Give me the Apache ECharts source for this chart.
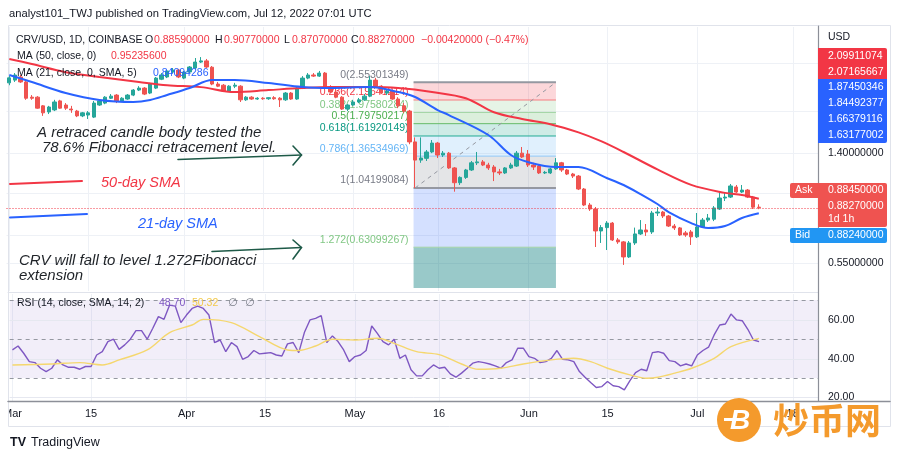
<!DOCTYPE html>
<html>
<head>
<meta charset="utf-8">
<title>CRV/USD 1D</title>
<script src="https://cdn.jsdelivr.net/npm/echarts@6.0.0/dist/echarts.min.js"></script>
<style>
html,body{margin:0;padding:0;background:#ffffff;}
#chart{width:900px;height:459px;}
</style>
</head>
<body>
<div id="chart"></div>
<script>
// ---------------- data ----------------
const dayCount = 144; // 2022-03-01 .. 2022-07-22
const categories = [];
for (let i = 0; i < dayCount; i++) {
  const d = new Date(Date.UTC(2022, 2, 1 + i));
  categories.push(d.toISOString().slice(0, 10));
}
const tickDates = ['2022-03-01','2022-03-15','2022-04-01','2022-04-15','2022-05-01','2022-05-16','2022-06-01','2022-06-15','2022-07-01','2022-07-18'];
const tickTexts = ['Mar','15','Apr','15','May','16','Jun','15','Jul','18'];

const opens = [2.54,2.60,2.67,2.56,2.25,2.25,2.09,1.985,2.02,2.18,
 2.105,2.035,2.00,1.92,1.934,1.90,2.105,2.14,2.23,2.29,
 2.18,2.215,2.29,2.39,2.43,2.33,2.43,2.62,2.67,2.785,
 2.83,2.645,2.785,2.88,3.03,3.06,2.90,2.515,2.49,2.37,
 2.47,2.47,2.20,2.25,2.215,2.23,2.22,2.24,2.23,2.20,
 2.33,2.215,2.43,2.645,2.715,2.69,2.76,2.43,2.35,2.25,
 2.035,2.105,2.16,2.20,2.27,2.60,2.47,2.33,2.37,2.215,
 2.09,2.00,1.54,1.32,1.34,1.414,1.525,1.378,1.40,1.235,
 1.09,1.14,1.214,1.29,1.30,1.266,1.245,1.194,1.184,1.235,
 1.255,1.40,1.39,1.266,1.255,1.184,1.184,1.225,1.29,1.214,
 1.173,1.153,1.033,0.902,0.872,0.724,0.745,0.774,0.671,0.66,
 0.581,0.654,0.706,0.73,0.718,0.843,0.85,0.822,0.755,0.743,
 0.712,0.718,0.689,0.749,0.794,0.80,0.872,0.957,0.965,1.051,
 1.007,1.024,0.965,0.8859];
const closes = [2.65,2.715,2.56,2.23,2.23,2.05,1.97,2.07,2.16,2.05,
 2.05,2.02,1.92,1.97,1.97,2.14,2.18,2.25,2.27,2.18,
 2.23,2.29,2.39,2.43,2.31,2.515,2.645,2.715,2.81,2.83,
 2.67,2.785,2.905,3.03,3.06,2.905,2.515,2.47,2.37,2.47,
 2.49,2.20,2.25,2.215,2.23,2.22,2.24,2.22,2.20,2.33,
 2.215,2.43,2.645,2.715,2.69,2.76,2.43,2.35,2.25,2.035,
 2.105,2.16,2.20,2.27,2.60,2.47,2.33,2.37,2.215,2.09,
 2.00,1.54,1.32,1.343,1.414,1.525,1.378,1.40,1.235,1.09,
 1.14,1.214,1.29,1.30,1.266,1.235,1.194,1.184,1.235,1.266,
 1.40,1.355,1.266,1.245,1.184,1.19,1.225,1.29,1.214,1.173,
 1.153,1.033,0.902,0.872,0.724,0.745,0.774,0.671,0.66,0.581,
 0.654,0.706,0.730,0.718,0.843,0.85,0.822,0.755,0.743,0.70,
 0.70,0.689,0.749,0.794,0.808,0.88,0.957,0.965,1.06,1.007,
 1.024,0.965,0.886,0.8827];
const highs = [2.69,2.76,2.715,2.58,2.29,2.27,2.105,2.09,2.20,2.20,
 2.14,2.09,2.02,1.985,2.00,2.18,2.215,2.27,2.31,2.31,
 2.25,2.31,2.41,2.47,2.45,2.54,2.67,2.76,2.83,2.88,
 2.86,2.81,2.93,3.135,3.16,3.11,2.93,2.56,2.515,2.49,
 2.54,2.49,2.27,2.27,2.25,2.25,2.25,2.27,2.25,2.35,
 2.35,2.45,2.69,2.76,2.76,2.81,2.785,2.49,2.45,2.27,
 2.12,2.20,2.235,2.31,2.69,2.65,2.49,2.41,2.39,2.25,
 2.14,2.02,1.60,1.60,1.438,1.565,1.54,1.426,1.414,1.245,
 1.15,1.225,1.31,1.414,1.321,1.29,1.266,1.225,1.245,1.29,
 1.426,1.475,1.438,1.29,1.266,1.204,1.235,1.343,1.30,1.225,
 1.184,1.163,1.042,0.918,0.887,0.761,0.787,0.781,0.682,0.665,
 0.665,0.745,0.794,0.768,0.858,0.887,0.858,0.829,0.768,0.749,
 0.724,0.73,0.843,0.808,0.836,0.894,1.007,1.007,1.078,1.069,
 1.069,1.033,0.974,0.9077];
const lows = [2.49,2.56,2.54,2.20,2.20,2.04,1.92,1.95,2.00,2.04,
 2.02,1.97,1.90,1.90,1.87,1.885,2.09,2.12,2.215,2.14,
 2.16,2.20,2.27,2.37,2.29,2.31,2.41,2.60,2.645,2.76,
 2.645,2.62,2.76,2.86,3.005,2.88,2.49,2.45,2.35,2.35,
 2.43,2.16,2.18,2.20,2.20,2.20,2.20,2.20,2.07,2.18,
 2.20,2.20,2.41,2.62,2.67,2.67,2.39,2.33,2.23,2.02,
 2.00,2.09,2.14,2.18,2.25,2.45,2.31,2.29,2.20,2.05,
 1.97,1.51,1.042,1.29,1.31,1.40,1.343,1.355,1.225,1.01,
 1.069,1.125,1.204,1.266,1.255,1.214,1.105,1.163,1.173,1.225,
 1.245,1.343,1.245,1.214,1.173,1.173,1.173,1.214,1.194,1.163,
 1.134,1.024,0.894,0.858,0.632,0.654,0.616,0.665,0.649,0.543,
 0.576,0.643,0.70,0.694,0.706,0.822,0.808,0.749,0.73,0.694,
 0.689,0.643,0.682,0.743,0.781,0.787,0.865,0.933,0.957,0.999,
 0.999,0.957,0.872,0.8707];

// moving averages: [day index, value]
const ma50Points = [[0,3.11],[4,2.98],[10,2.78],[16,2.67],[23,2.56],[28,2.49],[34,2.45],[40,2.35],[46,2.39],[52,2.43],[57,2.45],[64,2.45],[69,2.43],[75,2.35],[81,2.23],[86,1.98],[91,1.87],[96,1.79],[101,1.67],[105,1.55],[109,1.414],[115,1.22],[121,1.07],[127,1.0],[130,0.982],[133,0.952]];
const ma21Points = [[0,2.715],[4,2.558],[10,2.331],[16,2.197],[22,2.16],[25,2.197],[28,2.292],[32,2.432],[36,2.602],[40,2.602],[46,2.537],[52,2.452],[57,2.432],[64,2.452],[69,2.351],[72,2.253],[76,2.018],[78,1.934],[85,1.633],[89,1.378],[92,1.299],[97,1.245],[101,1.245],[106,1.134],[109,1.069],[112,0.99],[115,0.91],[117,0.85],[121,0.774],[124,0.7425],[127,0.755],[130,0.808],[133,0.841]];

const rsiValues = [44.4,46.4,42.7,38.4,37.9,35.0,33.3,35.0,39.3,36.7,
 35.5,35.5,34.5,35.9,35.9,41.8,43.5,48.7,49.9,44.7,
 47.0,49.9,54.3,54.3,49.9,55.5,61.5,60.1,67.4,66.9,
 58.4,62.3,65.7,66.9,65.7,62.3,48.2,49.5,43.5,48.2,
 46.1,39.6,41.0,44.1,42.4,42.7,43.0,41.8,41.3,47.5,
 48.2,43.0,53.3,59.8,60.6,62.0,48.2,51.6,48.7,44.4,
 38.4,41.0,41.8,44.1,56.7,52.9,48.7,47.0,49.9,40.1,
 41.8,34.2,31.1,31.1,34.2,36.7,35.0,35.5,32.1,30.4,
 32.5,35.0,37.6,38.4,37.9,37.2,36.2,35.0,37.9,39.3,
 45.3,45.3,41.0,40.1,37.9,38.4,40.1,44.1,39.6,39.3,
 38.4,33.3,30.4,27.7,25.1,25.6,28.2,26.0,25.6,23.9,
 28.7,32.8,34.5,33.7,43.0,43.5,42.7,38.9,38.4,36.2,
 37.2,36.2,41.8,44.1,45.8,52.1,57.2,57.7,62.8,59.8,
 59.4,55.0,49.5,48.7];
const rsiSmaPoints = [[0,36.7],[7,37.2],[12,37.9],[16,36.7],[19,39.3],[24,44.4],[28,53.3],[32,57.2],[34,60.1],[39,58.4],[44,51.2],[49,44.4],[51,44.1],[54,46.4],[57,49.9],[61,49.5],[65,50.4],[68,47.8],[72,43.5],[76,42.0],[80,37.2],[83,34.5],[87,35.0],[91,37.2],[96,39.3],[100,40.1],[103,38.4],[106,35.0],[110,31.6],[113,29.9],[115,30.4],[118,32.5],[121,35.0],[125,40.1],[128,46.1],[133,50.32]];

const fibRatios = [0, 0.236, 0.382, 0.5, 0.618, 0.786, 1, 1.272, 1.618];
const fibPrices = [2.55301349, 2.19641214, 1.97580284, 1.79750217, 1.61920149, 1.36534969, 1.04199084, 0.63099267, 0.10817884];
const fibStartDate = '2022-05-12';
const fibEndDate = '2022-06-06';

const lastPrice = 0.8827;
const priceGridLines = [3.0, 2.0, 1.4, 1.0, 0.7, 0.55];
const priceAxisLabels = [1.4, 0.55];
const rsiSolidLevels = [60, 40, 20];
const rsiDashedLevels = [70, 50, 30];
const rsiBand = [30, 70];

// ---------------- chart ----------------
const FONT = "'Liberation Sans', Arial, sans-serif";
const tickIdx = tickDates.map(d => categories.indexOf(d));
const tickMap = {};
tickIdx.forEach((ix, k) => { tickMap[ix] = tickTexts[k]; });
const fibStart = categories.indexOf(fibStartDate);
const fibEnd = categories.indexOf(fibEndDate);

const fibZoneColors = ['rgba(242,54,69,0.2)','rgba(129,199,132,0.2)','rgba(76,175,80,0.2)','rgba(8,153,129,0.2)','rgba(100,181,246,0.2)','rgba(120,123,134,0.2)','rgba(41,98,255,0.2)','rgba(0,120,120,0.4)'];
const fibLineColors = ['#9598a1','#f77c80','#a5d6a7','#66bb6a','#22ab94','#90caf9','#9598a1','#a5d6a7'];
const fibTextColors = ['#787b86','#f23645','#81c784','#4caf50','#089981','#64b5f6','#787b86','#81c784'];

const chart = echarts.init(document.getElementById('chart'));

function vGrid(params, api) {
  const cs = params.coordSys;
  const x = Math.round(api.coord([api.value(0), api.value(1)])[0]) + 0.5;
  return { type: 'line', silent: true, shape: { x1: x, y1: cs.y, x2: x, y2: cs.y + cs.height }, style: { stroke: '#eef1f6', lineWidth: 1 } };
}

const G = [];
function T(x, y, text, fill, size, o) {
  o = o || {};
  G.push({ type: 'text', x: x, y: y, z: 30, silent: true,
    style: { text: text, fill: fill, align: o.align || 'left', verticalAlign: 'middle',
      font: (o.italic ? 'italic ' : '') + (o.weight || 'normal') + ' ' + size + 'px ' + (o.family || FONT) } });
}
function R(x, y, w, h, fill, z, r) {
  G.push({ type: 'rect', z: z || 25, silent: true, shape: { x: x, y: y, width: w, height: h, r: r || 0 }, style: { fill: fill } });
}
function L(points, stroke, width, z) {
  G.push({ type: 'polyline', z: z || 30, silent: true, shape: { points: points }, style: { stroke: stroke, lineWidth: width, fill: 'none', lineCap: 'round', lineJoin: 'round' } });
}

// frame & axes lines
G.push({ type: 'rect', z: 1, silent: true, shape: { x: 8.5, y: 25.5, width: 882, height: 401 }, style: { fill: 'none', stroke: '#e0e3eb', lineWidth: 1 } });
L([[8, 292.5], [818, 292.5]], '#e0e3eb', 1, 5);
L([[818.5, 26], [818.5, 401]], '#8c8f98', 1.2, 5);
L([[8, 401.5], [890, 401.5]], '#8c8f98', 1.5, 5);
R(0, 403, 8, 22, '#ffffff', 40);

// header / legends
T(9, 14, 'analyst101_TWJ published on TradingView.com, Jul 12, 2022 07:01 UTC', '#131722', 11.2);
T(16, 40, 'CRV/USD, 1D, COINBASE', '#131722', 10.5);
T(145, 40, 'O', '#131722', 10.5); T(154, 40, '0.88590000', '#f23645', 10.5);
T(215, 40, 'H', '#131722', 10.5); T(224, 40, '0.90770000', '#f23645', 10.5);
T(284, 40, 'L', '#131722', 10.5); T(292, 40, '0.87070000', '#f23645', 10.5);
T(351, 40, 'C', '#131722', 10.5); T(359, 40, '0.88270000', '#f23645', 10.5);
T(421, 40, '\u22120.00420000 (\u22120.47%)', '#f23645', 10.5);
T(17, 56, 'MA (50, close, 0)', '#131722', 10.5); T(111, 56, '0.95235600', '#f23645', 10.5);
T(17, 73, 'MA (21, close, 0, SMA, 5)', '#131722', 10.5); T(153, 73, '0.84094286', '#2962ff', 10.5);
T(17, 303, 'RSI (14, close, SMA, 14, 2)', '#131722', 10.5);
T(159, 303, '48.70', '#7e57c2', 10.5); T(192, 303, '50.32', '#f2c94c', 10.5);
T(228, 303, '\u2205', '#787b86', 11, { family: 'DejaVu Sans' }); T(245, 303, '\u2205', '#787b86', 11, { family: 'DejaVu Sans' });

// annotations
T(37, 133, 'A retraced candle body tested the', '#1f2328', 15, { italic: true });
T(42, 148, '78.6% Fibonacci retracement level.', '#1f2328', 15, { italic: true });
T(101, 183, '50-day SMA', '#f23645', 14.5, { italic: true });
T(138, 224, '21-day SMA', '#2962ff', 14.5, { italic: true });
T(19, 261, 'CRV will fall to level 1.272Fibonacci', '#1f2328', 15, { italic: true });
T(19, 276, 'extension', '#1f2328', 15, { italic: true });
L([[10, 184], [82, 181]], '#f23645', 2);
L([[10, 217.5], [87, 214]], '#2962ff', 2);
L([[178, 159.5], [301.5, 155]], '#1e5a48', 1.6);
L([[293, 146], [301.5, 155], [293, 165]], '#1e5a48', 1.6);
L([[212, 251.5], [301.5, 247.5]], '#1e5a48', 1.6);
L([[293, 240], [301.5, 247.5], [293, 259]], '#1e5a48', 1.6);

// price scale tags
T(828, 37, 'USD', '#131722', 10.5);
R(818, 48, 69, 31, '#f23645', 25, [0, 2, 0, 0]);
T(828, 56, '2.09911074', '#ffffff', 10.5); T(828, 72, '2.07165667', '#ffffff', 10.5);
R(818, 79, 69, 64, '#2962ff', 25, [0, 0, 2, 0]);
T(828, 87, '1.87450346', '#ffffff', 10.5); T(828, 103, '1.84492377', '#ffffff', 10.5);
T(828, 119, '1.66379116', '#ffffff', 10.5); T(828, 135, '1.63177002', '#ffffff', 10.5);
R(790, 183, 29, 15, '#ef5350', 25, [2, 0, 0, 2]);
R(818, 183, 69, 44, '#ef5350', 25, [0, 2, 2, 0]);
T(795, 190.5, 'Ask', '#ffffff', 10.5); T(828, 190.5, '0.88450000', '#ffffff', 10.5);
T(828, 206.5, '0.88270000', '#ffffff', 10.5); T(828, 219.5, '1d 1h', '#ffffff', 10.5);
R(790, 228, 97, 15, '#2196f3', 25, 2);
T(795, 235.5, 'Bid', '#ffffff', 10.5); T(828, 235.5, '0.88240000', '#ffffff', 10.5);

// footer logo
T(10, 443, 'TV', '#131722', 12.5, { weight: 'bold' });
T(31, 443, 'TradingView', '#131722', 12.5);

// watermark
G.push({ type: 'circle', z: 45, silent: true, shape: { cx: 739, cy: 420, r: 22 }, style: { fill: '#f49a2c' } });
T(740, 421, 'B', '#ffffff', 28, { weight: 'bold', italic: true, align: 'center' });
G[G.length - 1].z = 46;
R(724, 418, 9, 3, '#ffffff', 46);
T(773, 420, '炒币网', '#f49a2c', 36, { weight: 'bold', family: "'Noto Sans CJK SC', sans-serif" });
G[G.length - 1].z = 45;

const option = {
  animation: false,
  backgroundColor: '#ffffff',
  textStyle: { fontFamily: FONT },
  grid: [
    { left: 6.5, top: 27, width: 811.5, height: 264 },
    { left: 6.5, top: 294, width: 811.5, height: 107 }
  ],
  xAxis: [
    { type: 'category', gridIndex: 0, data: categories, boundaryGap: true,
      axisLine: { show: false }, axisTick: { show: false }, axisLabel: { show: false }, splitLine: { show: false } },
    { type: 'category', gridIndex: 1, data: categories, boundaryGap: true,
      axisLine: { show: false }, axisTick: { show: false }, splitLine: { show: false },
      axisLabel: { show: true, interval: (i) => tickMap[i] !== undefined, formatter: (v, i) => tickMap[i] || '',
        color: '#131722', fontSize: 11, margin: 7, fontFamily: FONT } }
  ],
  yAxis: [
    { type: 'log', gridIndex: 0, logBase: 10, min: 0.4353, max: 4.078, show: false, splitLine: { show: false } },
    { type: 'value', gridIndex: 1, min: 18.2, max: 73.1, show: false, splitLine: { show: false } }
  ],
  graphic: { elements: G },
  series: [
    { name: 'vgrid-main', type: 'custom', xAxisIndex: 0, yAxisIndex: 0, z: 0, silent: true,
      data: tickIdx.map(i => [i, 1]), renderItem: vGrid },
    { name: 'hgrid-main', type: 'custom', xAxisIndex: 0, yAxisIndex: 0, z: 0, silent: true, clip: false,
      data: priceGridLines.map(p => [0, p]),
      renderItem: function (params, api) {
        const cs = params.coordSys;
        const p = api.value(1);
        const y = Math.round(api.coord([0, p])[1]) + 0.5;
        const ch = [{ type: 'line', shape: { x1: cs.x, y1: y, x2: cs.x + cs.width, y2: y }, style: { stroke: '#eef1f6', lineWidth: 1 } }];
        if (priceAxisLabels.indexOf(p) >= 0) {
          ch.push({ type: 'text', style: { text: p.toFixed(8), x: cs.x + cs.width + 10, y: y, fill: '#131722', align: 'left', verticalAlign: 'middle', font: '10.5px ' + FONT } });
        }
        return { type: 'group', children: ch };
      } },
    { name: 'fib', type: 'custom', xAxisIndex: 0, yAxisIndex: 0, z: 1, silent: true, clip: false,
      data: fibRatios.slice(0, 8).map((r, k) => [fibStart, fibPrices[k], k]),
      renderItem: function (params, api) {
        const cs = params.coordSys;
        const k = api.value(2);
        const p0 = api.coord([fibStart, fibPrices[k]]);
        const x0 = p0[0] - 1.5;
        const x1 = api.coord([fibEnd, fibPrices[k]])[0];
        const y = p0[1];
        let yN = api.coord([fibStart, fibPrices[k + 1]])[1];
        yN = Math.min(yN, cs.y + cs.height - 3);
        const lw = (k === 0 || k === 6) ? 2 : 1;
        return { type: 'group', children: [
          { type: 'rect', shape: { x: x0, y: y, width: x1 - x0, height: yN - y }, style: { fill: fibZoneColors[k] } },
          { type: 'line', shape: { x1: x0, y1: y, x2: x1, y2: y }, style: { stroke: fibLineColors[k], lineWidth: lw } },
          { type: 'text', style: { text: String(fibRatios[k]) + '(' + fibPrices[k].toFixed(8) + ')', x: x0 - 5, y: y - 2,
            fill: fibTextColors[k], align: 'right', verticalAlign: 'bottom', font: '10.5px ' + FONT } }
        ] };
      } },
    { name: 'fib-trend', type: 'line', xAxisIndex: 0, yAxisIndex: 0, z: 1, silent: true, symbol: 'none',
      data: [[fibStart, fibPrices[6]], [fibEnd, fibPrices[0]]],
      lineStyle: { color: '#9598a1', width: 1, type: [4, 4] } },
    { name: 'CRV/USD', type: 'candlestick', xAxisIndex: 0, yAxisIndex: 0, z: 3, barWidth: '68%',
      data: opens.map((o, i) => [o, closes[i], lows[i], highs[i]]),
      itemStyle: { color: '#26a69a', color0: '#ef5350', borderColor: '#26a69a', borderColor0: '#ef5350', borderWidth: 1 },
      markLine: { silent: true, symbol: 'none', label: { show: false },
        lineStyle: { color: '#f23645', type: [1, 2], width: 1 }, data: [{ yAxis: lastPrice }] } },
    { name: 'MA50', type: 'line', xAxisIndex: 0, yAxisIndex: 0, z: 4, symbol: 'none', smooth: 0.35,
      data: ma50Points, lineStyle: { color: '#f23645', width: 2 } },
    { name: 'MA21', type: 'line', xAxisIndex: 0, yAxisIndex: 0, z: 4, symbol: 'none', smooth: 0.35,
      data: ma21Points, lineStyle: { color: '#2962ff', width: 2 } },

    { name: 'vgrid-rsi', type: 'custom', xAxisIndex: 1, yAxisIndex: 1, z: 0, silent: true,
      data: tickIdx.map(i => [i, 50]), renderItem: vGrid },
    { name: 'rsi-band', type: 'custom', xAxisIndex: 1, yAxisIndex: 1, z: 0, silent: true,
      data: [[0, rsiBand[0], rsiBand[1]]],
      renderItem: function (params, api) {
        const cs = params.coordSys;
        const yA = api.coord([0, api.value(2)])[1];
        const yB = api.coord([0, api.value(1)])[1];
        return { type: 'rect', shape: { x: cs.x, y: yA, width: cs.width, height: yB - yA }, style: { fill: 'rgba(126,87,194,0.1)' } };
      } },
    { name: 'rsi-solid', type: 'custom', xAxisIndex: 1, yAxisIndex: 1, z: 1, silent: true, clip: false,
      data: rsiSolidLevels.map(v => [0, v]),
      renderItem: function (params, api) {
        const cs = params.coordSys;
        const v = api.value(1);
        const y = Math.round(api.coord([0, v])[1]) + 0.5;
        return { type: 'group', children: [
          { type: 'line', shape: { x1: cs.x, y1: y, x2: cs.x + cs.width, y2: y }, style: { stroke: '#e6e8f0', lineWidth: 1 } },
          { type: 'text', style: { text: v.toFixed(2), x: cs.x + cs.width + 10, y: y, fill: '#131722', align: 'left', verticalAlign: 'middle', font: '10.5px ' + FONT } }
        ] };
      } },
    { name: 'rsi-dashed', type: 'custom', xAxisIndex: 1, yAxisIndex: 1, z: 1, silent: true,
      data: rsiDashedLevels.map(v => [0, v]),
      renderItem: function (params, api) {
        const cs = params.coordSys;
        const y = Math.round(api.coord([0, api.value(1)])[1]) + 0.5;
        return { type: 'line', shape: { x1: cs.x, y1: y, x2: cs.x + cs.width, y2: y }, style: { stroke: '#9598a1', lineWidth: 1, lineDash: [4, 4] } };
      } },
    { name: 'RSI', type: 'line', xAxisIndex: 1, yAxisIndex: 1, z: 3, symbol: 'none',
      data: rsiValues, lineStyle: { color: '#7e57c2', width: 1.4 } },
    { name: 'RSI SMA', type: 'line', xAxisIndex: 1, yAxisIndex: 1, z: 3, symbol: 'none', smooth: 0.35,
      data: rsiSmaPoints, lineStyle: { color: '#f5d76e', width: 1.4 } }
  ]
};
chart.setOption(option);
</script>
</body>
</html>
